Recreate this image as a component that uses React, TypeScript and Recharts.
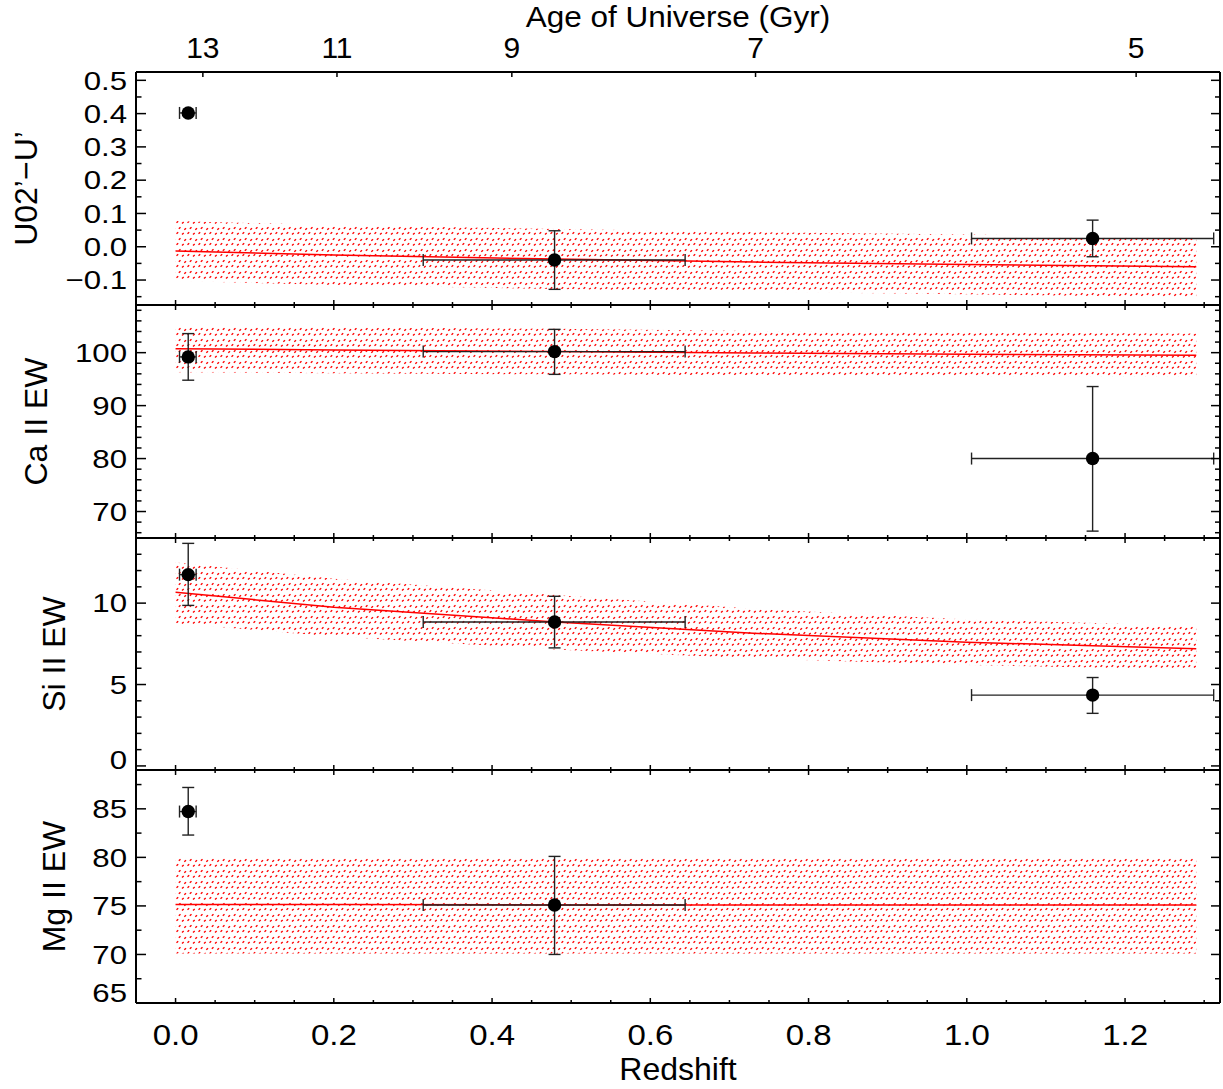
import { ComposedChart, Area, Line, Scatter, ErrorBar, XAxis, YAxis } from "recharts";

const FONT = "'Liberation Sans', Arial, Helvetica, sans-serif";

// redshift axis
const zDomain = [-0.05, 1.32];
const zMajor = [0, 0.2, 0.4, 0.6, 0.8, 1.0, 1.2];
const zMinor = [0.05, 0.1, 0.15, 0.25, 0.3, 0.35, 0.45, 0.5, 0.55, 0.65, 0.7, 0.75, 0.85, 0.9, 0.95, 1.05, 1.1, 1.15, 1.25, 1.3];

// top axis: age of universe (Gyr) and the redshift where each tick sits
const ageLabels = [13, 11, 9, 7, 5];
const ageZ = [0.0345, 0.204, 0.425, 0.733, 1.214];

// model band, sampled along redshift
const bandZ = [0, 0.2, 0.48, 0.73, 1.0, 1.29];

const colMid = [-0.013, -0.025, -0.037, -0.046, -0.053, -0.06];
const colHi = [0.077, 0.065, 0.053, 0.044, 0.037, 0.027];
const colLo = [-0.103, -0.115, -0.127, -0.136, -0.143, -0.152];

const caMid = [100.75, 100.5, 100.2, 99.95, 99.7, 99.5];
const caHi = [105.1, 104.8, 104.5, 104.1, 103.8, 103.6];
const caLo = [96.3, 96.1, 95.9, 95.7, 95.5, 95.4];

const siMid = [10.67, 9.75, 8.84, 8.15, 7.6, 7.2];
const siHi = [12.5, 11.5, 10.5, 9.65, 9.0, 8.6];
const siLo = [8.75, 7.95, 7.15, 6.6, 6.2, 5.9];

const mgMid = [75.15, 75.15, 75.1, 75.1, 75.1, 75.1];
const mgHi = [80.1, 80.1, 80.1, 80.1, 80.1, 80.1];
const mgLo = [70.1, 70.1, 70.1, 70.1, 70.1, 70.1];

// measured points
const ptZ = [0.016, 0.479, 1.159];
const ptZLo = [0.005, 0.313, 1.006];
const ptZHi = [0.026, 0.644, 1.312];

const colV = [0.402, -0.04, 0.025];
const colVLo = [0.397, -0.128, -0.03];
const colVHi = [0.407, 0.048, 0.08];

const caV = [99.2, 100.2, 80.0];
const caVLo = [94.8, 95.9, 66.3];
const caVHi = [103.6, 104.4, 93.6];

const siV = [11.75, 8.84, 4.35];
const siVLo = [9.86, 7.25, 3.23];
const siVHi = [13.67, 10.42, 5.43];

const mgV = [84.72, 75.1];
const mgVLo = [82.3, 70.0];
const mgVHi = [87.2, 80.1];

// y ticks
const colMajor = [-0.1, 0, 0.1, 0.2, 0.3, 0.4, 0.5];
const colMinor = [-0.15, -0.05, 0.05, 0.15, 0.25, 0.35, 0.45];
const caMajor = [70, 80, 90, 100];
const caMinor = [66, 68, 72, 74, 76, 78, 82, 84, 86, 88, 92, 94, 96, 98, 102, 104, 106, 108];
const siMajor = [0, 5, 10];
const siMinor = [1, 2, 3, 4, 6, 7, 8, 9, 11, 12, 13];
const mgMajor = [65, 70, 75, 80, 85];
const mgMinor = [67.5, 72.5, 77.5, 82.5, 87.5];

const buildBand = (mid: number[], lo: number[], hi: number[]) =>
  bandZ.map((z, i) => ({ z, mid: mid[i], band: [lo[i], hi[i]] }));

const buildPoints = (v: number[], lo: number[], hi: number[]) =>
  v.map((val, i) => ({
    z: ptZ[i],
    v: val,
    ex: [ptZ[i] - ptZLo[i], ptZHi[i] - ptZ[i]],
    ey: [val - lo[i], hi[i] - val],
  }));

const fmt1 = (v: number) => (v < 0 ? "\u2212" + Math.abs(v).toFixed(1) : v.toFixed(1));
const fmt0 = (v: number) => String(v);

const panels = [
  {
    id: "col", title: "U02\u2019\u2212U\u2019", titleX: 37, domain: [-0.175, 0.525],
    major: colMajor, minor: colMinor, fmt: fmt1,
    band: buildBand(colMid, colLo, colHi), pts: buildPoints(colV, colVLo, colVHi),
    top: 72, bottom: 305,
  },
  {
    id: "ca", title: "Ca II EW", titleX: 47, domain: [65, 109],
    major: caMajor, minor: caMinor, fmt: fmt0,
    band: buildBand(caMid, caLo, caHi), pts: buildPoints(caV, caVLo, caVHi),
    top: 305, bottom: 538,
  },
  {
    id: "si", title: "Si II EW", titleX: 65, domain: [-0.25, 14],
    major: siMajor, minor: siMinor, fmt: fmt0,
    band: buildBand(siMid, siLo, siHi), pts: buildPoints(siV, siVLo, siVHi),
    top: 538, bottom: 770,
  },
  {
    id: "mg", title: "Mg II EW", titleX: 65, domain: [65, 89],
    major: mgMajor, minor: mgMinor, fmt: fmt0,
    band: buildBand(mgMid, mgLo, mgHi), pts: buildPoints(mgV, mgVLo, mgVHi),
    top: 770, bottom: 1003,
  },
];

const tickStroke = { stroke: "#000", strokeWidth: 1.5 };

const leftTick = (major: number[], fmt: (v: number) => string, plotBottom: number) => (p: any) => {
  const isMajor = major.includes(p.payload.value);
  const len = isMajor ? 10 : 5.5;
  const cy = Math.min(p.y, plotBottom - 10.5);
  return (
    <g>
      <line x1={p.x} x2={p.x + len} y1={p.y} y2={p.y} {...tickStroke} />
      {isMajor && (
        <text
          transform={`translate(${p.x - 9},${cy + 9.3}) scale(1.2,1)`}
          textAnchor="end"
          fontSize={26}
          fontFamily={FONT}
          fill="#000"
        >
          {fmt(p.payload.value)}
        </text>
      )}
    </g>
  );
};

const rightTick = (major: number[]) => (p: any) => {
  const len = major.includes(p.payload.value) ? 9 : 5;
  return <line x1={p.x} x2={p.x - len} y1={p.y} y2={p.y} {...tickStroke} />;
};

const topTick = (p: any) => {
  const len = zMajor.includes(p.payload.value) ? 5 : 3;
  return <line x1={p.x} x2={p.x} y1={p.y} y2={p.y + len} {...tickStroke} />;
};

const ageTick = (p: any) => {
  const i = ageZ.indexOf(p.payload.value);
  return (
    <g>
      <line x1={p.x} x2={p.x} y1={p.y} y2={p.y + 5} {...tickStroke} />
      <text x={p.x} y={p.y - 14.5} textAnchor="middle" fontSize={30} fontFamily={FONT} fill="#000">
        {ageLabels[i]}
      </text>
    </g>
  );
};

const bottomTick = (labels: boolean) => (p: any) => {
  const isMajor = zMajor.includes(p.payload.value);
  return (
    <g>
      <line x1={p.x} x2={p.x} y1={p.y} y2={p.y - (isMajor ? 5 : 3)} {...tickStroke} />
      {labels && isMajor && (
        <text
          transform={`translate(${p.x},${p.y + 42}) scale(1.1,1)`}
          textAnchor="middle"
          fontSize={30}
          fontFamily={FONT}
          fill="#000"
        >
          {p.payload.value.toFixed(1)}
        </text>
      )}
    </g>
  );
};

const axisLine = { stroke: "#000", strokeWidth: 2 };

function Panel({ cfg, index }: { cfg: (typeof panels)[number]; index: number }) {
  const first = index === 0;
  const last = index === panels.length - 1;
  const topExtra = first ? 72 : 6;
  const bottomExtra = last ? 86 : 6;
  const plotH = cfg.bottom - cfg.top;
  const height = topExtra + plotH + bottomExtra;
  const yTicks = [...cfg.major, ...cfg.minor];
  const hatch = `hatch-${cfg.id}`;

  return (
    <div style={{ position: "absolute", left: 0, top: cfg.top - topExtra }}>
      <ComposedChart
        width={1223}
        height={height}
        data={cfg.band}
        margin={{ top: first ? 0 : 5, bottom: last ? 0 : 5, left: 0, right: 0 }}
      >
        <defs>
          <pattern id={hatch} width={11} height={11} patternUnits="userSpaceOnUse">
            <path
              d="M0.5 2.8 L2.2 1.3 M6 3.6 L7.7 2.1 M2.8 8.8 L4.5 7.3 M8.3 9.8 L10 8.3"
              stroke="#ff0000"
              strokeWidth={1.4}
            />
          </pattern>
        </defs>
        <XAxis
          dataKey="z"
          type="number"
          domain={zDomain}
          allowDataOverflow
          ticks={[...zMajor, ...zMinor]}
          interval={0}
          tickLine={false}
          tickSize={0}
          tickMargin={0}
          axisLine={axisLine}
          height={last ? 86 : 1}
          tick={bottomTick(last)}
          label={
            last
              ? {
                  content: (lp: any) => (
                    <text
                      x={lp.viewBox.x + lp.viewBox.width / 2}
                      y={lp.viewBox.y + 77}
                      textAnchor="middle"
                      fontSize={32}
                      fontFamily={FONT}
                      fill="#000"
                    >
                      Redshift
                    </text>
                  ),
                }
              : undefined
          }
        />
        <XAxis
          xAxisId="t"
          dataKey="z"
          orientation="top"
          type="number"
          domain={zDomain}
          allowDataOverflow
          ticks={first ? ageZ : [...zMajor, ...zMinor]}
          interval={0}
          tickLine={false}
          tickSize={0}
          tickMargin={0}
          axisLine={axisLine}
          height={first ? 72 : 1}
          tick={first ? ageTick : topTick}
          label={
            first
              ? {
                  content: (lp: any) => (
                    <text
                      transform={`translate(${lp.viewBox.x + lp.viewBox.width / 2},27) scale(1.05,1)`}
                      textAnchor="middle"
                      fontSize={30}
                      fontFamily={FONT}
                      fill="#000"
                    >
                      Age of Universe (Gyr)
                    </text>
                  ),
                }
              : undefined
          }
        />
        <YAxis
          type="number"
          domain={cfg.domain}
          allowDataOverflow
          ticks={yTicks}
          interval={0}
          width={136}
          tickLine={false}
          tickSize={0}
          tickMargin={0}
          axisLine={axisLine}
          tick={leftTick(cfg.major, cfg.fmt, topExtra + plotH)}
          label={{
            content: (lp: any) => (
              <text
                transform={`translate(${cfg.titleX},${lp.viewBox.y + lp.viewBox.height / 2}) rotate(-90)`}
                textAnchor="middle"
                fontSize={32}
                fontFamily={FONT}
                fill="#000"
              >
                {cfg.title}
              </text>
            ),
          }}
        />
        <YAxis
          yAxisId="r"
          orientation="right"
          type="number"
          domain={cfg.domain}
          allowDataOverflow
          ticks={yTicks}
          interval={0}
          width={3}
          tickLine={false}
          tickSize={0}
          tickMargin={0}
          axisLine={axisLine}
          tick={rightTick(cfg.major)}
        />
        <Area
          dataKey="band"
          type="linear"
          fill={`url(#${hatch})`}
          fillOpacity={1}
          stroke="none"
          isAnimationActive={false}
        />
        {/* invisible copy so the top and right axes get the same scales */}
        <Line
          dataKey="mid"
          xAxisId="t"
          yAxisId="r"
          stroke="none"
          dot={false}
          activeDot={false}
          legendType="none"
          isAnimationActive={false}
        />
        <Line
          dataKey="mid"
          type="linear"
          stroke="#ff0000"
          strokeWidth={1.5}
          dot={false}
          isAnimationActive={false}
        />
        <Scatter
          data={cfg.pts}
          dataKey="v"
          isAnimationActive={false}
          shape={(p: any) => <circle cx={p.cx} cy={p.cy} r={6.7} fill="#000" />}
        >
          <ErrorBar dataKey="ex" direction="x" width={6} stroke="#222" strokeWidth={1.4} />
          <ErrorBar dataKey="ey" direction="y" width={6} stroke="#222" strokeWidth={1.4} />
        </Scatter>
      </ComposedChart>
    </div>
  );
}

export default function App() {
  return (
    <div
      style={{
        position: "absolute",
        left: 0,
        top: 0,
        width: 1223,
        height: 1089,
        background: "#fff",
        overflow: "hidden",
      }}
    >
      {panels.map((cfg, i) => (
        <Panel key={cfg.id} cfg={cfg} index={i} />
      ))}
    </div>
  );
}
